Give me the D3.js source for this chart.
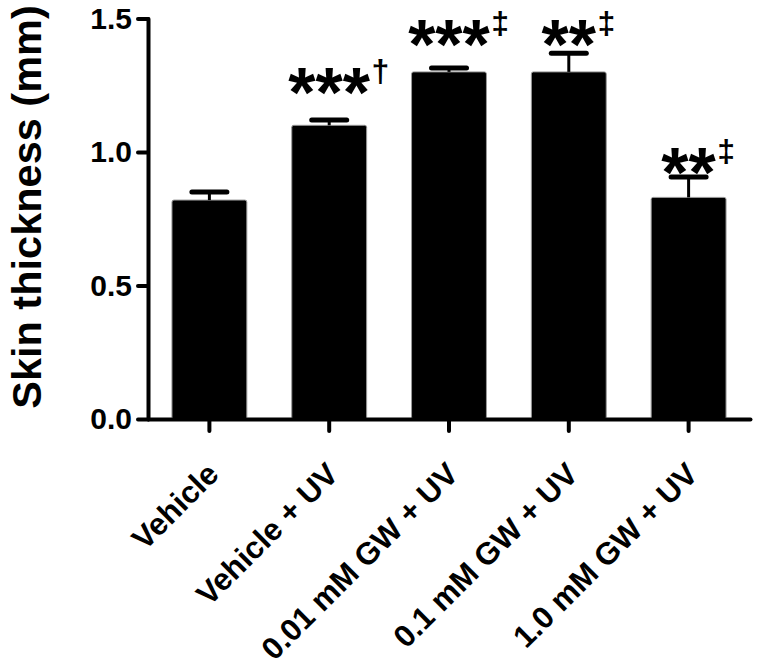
<!DOCTYPE html>
<html>
<head>
<meta charset="utf-8">
<script src="https://cdn.jsdelivr.net/npm/d3@7"></script>
<style>
  body { margin: 0; background: #fff; }
  svg text { font-family: "Liberation Sans", Arial, sans-serif; font-weight: bold; }
</style>
</head>
<body>
<script>
const width = 760;
const height = 672;

// data
const groups = ["Vehicle", "Vehicle + UV", "0.01 mM GW + UV", "0.1 mM GW + UV", "1.0 mM GW + UV"];
const thickness = [0.82, 1.10, 1.30, 1.30, 0.83];
const sem = [0.03, 0.02, 0.015, 0.07, 0.076];
const stars = ["", "***", "***", "**", "**"];
const marks = ["", "\u2020", "\u2021", "\u2021", "\u2021"];
const starLevel = [0, 1.232, 1.412, 1.412, 0.933];   // bottom of the asterisks, in mm
const yTicks = [0, 0.5, 1.0, 1.5];

const svg = d3.select("body").append("svg")
    .attr("width", width)
    .attr("height", height);

const x = d3.scaleBand()
    .domain(groups)
    .range([148, 750])
    .paddingInner(0.375)
    .paddingOuter(0.2);

const y = d3.scaleLinear()
    .domain([0, 1.5])
    .range([419, 18.5]);

// bars
svg.selectAll(".bar")
    .data(groups)
    .enter().append("rect")
    .attr("class", "bar")
    .attr("x", d => x(d))
    .attr("y", (d, i) => y(thickness[i]))
    .attr("width", x.bandwidth())
    .attr("height", (d, i) => y(0) - y(thickness[i]))
    .attr("rx", 2)
    .style("fill", "#000")
    .style("stroke", "#999")
    .style("stroke-width", 1);

// error bars (upper half only)
const err = svg.append("g").attr("class", "errors");
groups.forEach((g, i) => {
    const cx = x(g) + x.bandwidth() / 2;
    err.append("line")
        .attr("x1", cx).attr("x2", cx)
        .attr("y1", y(thickness[i])).attr("y2", y(thickness[i] + sem[i]))
        .style("stroke", "#000").style("stroke-width", 3);
    err.append("line")
        .attr("x1", cx - 17.5).attr("x2", cx + 17.5)
        .attr("y1", y(thickness[i] + sem[i])).attr("y2", y(thickness[i] + sem[i]))
        .style("stroke", "#000").style("stroke-width", 5)
        .style("stroke-linecap", "round");
});

// significance marks
groups.forEach((g, i) => {
    if (!stars[i]) return;
    const cx = x(g) + x.bandwidth() / 2;
    const t = svg.append("text")
        .attr("x", cx)
        .attr("y", y(starLevel[i]) + 27)
        .style("font-size", "70px")
        .style("text-anchor", "middle")
        .text(stars[i]);
    const bb = t.node().getBBox();
    svg.append("text")
        .attr("x", cx + bb.width / 2 + 1)
        .attr("y", y(starLevel[i]) - 8)
        .style("font-size", "32px")
        .text(marks[i]);
});

// y axis
const yAxis = d3.axisLeft(y)
    .tickValues(yTicks)
    .tickFormat(d3.format(".1f"))
    .tickSize(10)
    .tickSizeOuter(0)
    .tickPadding(6);

const gy = svg.append("g")
    .attr("transform", "translate(148,0)")
    .call(yAxis);
gy.select(".domain").style("stroke-width", 4).style("stroke-linecap", "round");
gy.selectAll(".tick line").style("stroke-width", 4).style("stroke-linecap", "round");
gy.selectAll(".tick text").style("font-size", "30px").style("font-family", "Liberation Sans, Arial, sans-serif").style("font-weight", "bold");

// x axis
const xAxis = d3.axisBottom(x)
    .tickSize(12)
    .tickSizeOuter(0)
    .tickFormat("");

const gx = svg.append("g")
    .attr("transform", "translate(0,419)")
    .call(xAxis);
gx.select(".domain").style("stroke-width", 4).style("stroke-linecap", "round");
gx.selectAll(".tick line").style("stroke-width", 4).style("stroke-linecap", "round");

// rotated category labels
svg.selectAll(".xlabel")
    .data(groups)
    .enter().append("text")
    .attr("class", "xlabel")
    .attr("transform", d => `translate(${x(d) + x.bandwidth() / 2 + 11},${476}) rotate(-45)`)
    .style("text-anchor", "end")
    .style("font-size", "31px")
    .text(d => d);

// y title
svg.append("text")
    .attr("transform", "translate(41,207) rotate(-90)")
    .style("text-anchor", "middle")
    .style("font-size", "41.5px")
    .text("Skin thickness (mm)");
</script>
</body>
</html>
